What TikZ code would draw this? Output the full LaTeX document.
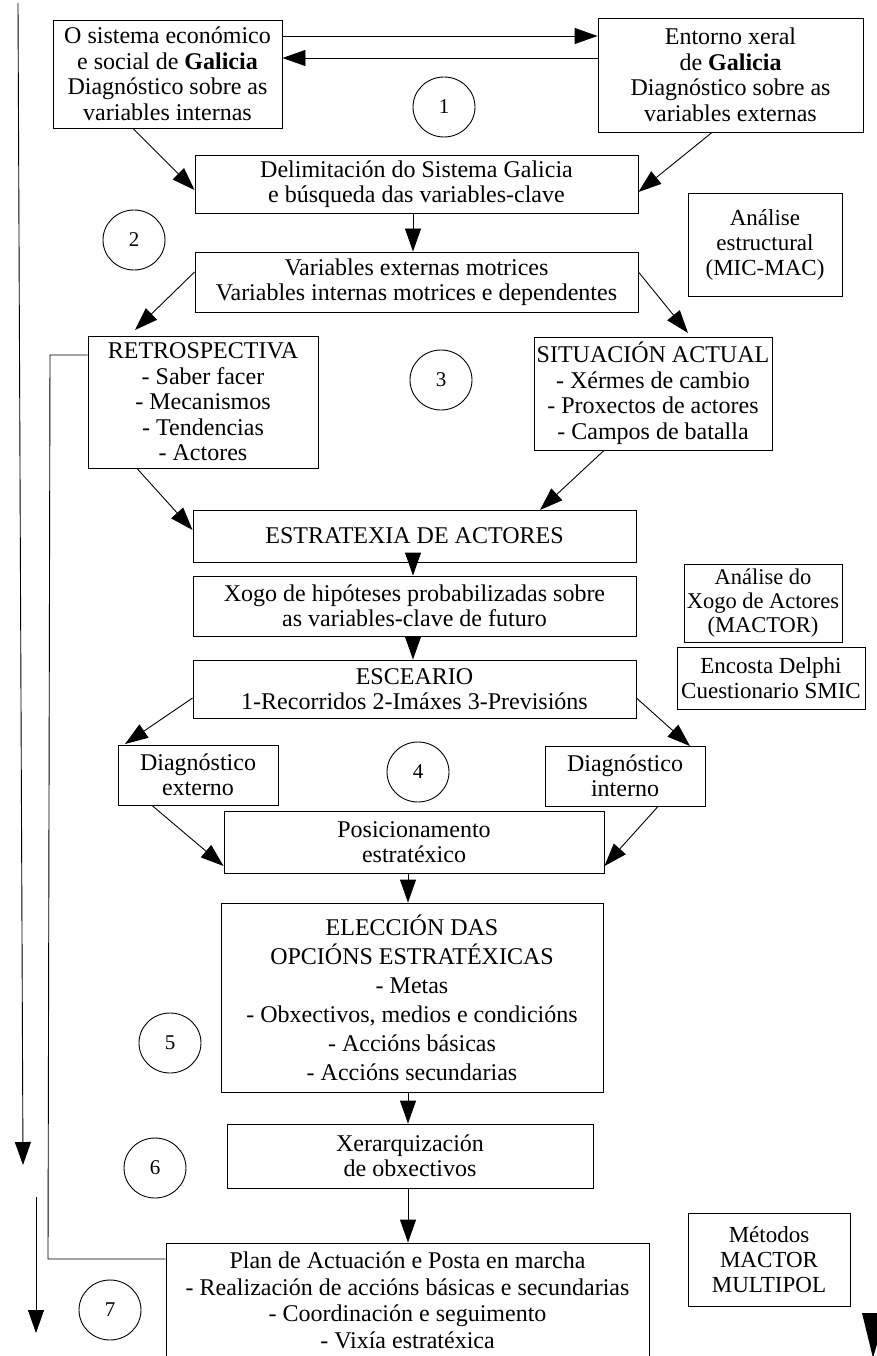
\documentclass[tikz,border=0pt]{standalone}
\usepackage{fontspec}
\setmainfont{Liberation Serif}
\usetikzlibrary{arrows.meta,calc,shapes.geometric}
\begin{document}
\begin{tikzpicture}[x=1pt,y=-1pt,
  box/.style={draw,line width=0.9pt,align=center,inner sep=0pt,font=\fontsize{24}{25.5}\selectfont},
  side/.style={box,font=\fontsize{23}{25}\selectfont},
  num/.style={draw,ellipse,line width=0.9pt,minimum width=62pt,minimum height=60pt,inner sep=0pt,font=\fontsize{21}{24}\selectfont},
  arr/.style={line width=0.9pt,-{Triangle[length=23pt,width=16pt]}},
  ln/.style={line width=0.9pt}]
\useasboundingbox (0,0) rectangle (877,1356);
\fill[white] (0,0) rectangle (877,1356);
% boxes
\node[box,minimum width=229,minimum height=108] (A) at (167.5,74) {O sistema económico\\e social de \textbf{Galicia}\\Diagnóstico sobre as\\variables internas};
\node[box,minimum width=265,minimum height=114] (B) at (730.5,75) {Entorno xeral\\de \textbf{Galicia}\\Diagnóstico sobre as\\variables externas};
\node[box,minimum width=443,minimum height=58] (D) at (416.5,184) {Delimitación do Sistema Galicia\\e búsqueda das variables-clave};
\node[side,minimum width=154,minimum height=103] (MM) at (765,244.5) {Análise\\estructural\\(MIC-MAC)};
\node[box,minimum width=443,minimum height=60] (V) at (416.5,282) {Variables externas motrices\\Variables internas motrices e dependentes};
\node[box,minimum width=230,minimum height=132] (R) at (203,402) {RETROSPECTIVA\\- Saber facer\\- Mecanismos\\- Tendencias\\- Actores};
\node[box,minimum width=238,minimum height=113] (S) at (653,393.5) {SITUACIÓN ACTUAL\\- Xérmes de cambio\\- Proxectos de actores\\- Campos de batalla};
\node[box,minimum width=443,minimum height=52] (E) at (414.5,536) {ESTRATEXIA DE ACTORES};
\node[side,minimum width=158,minimum height=78,font=\fontsize{22.5}{24}\selectfont] (MA) at (763,603) {Análise do\\Xogo de Actores\\(MACTOR)};
\node[box,minimum width=443,minimum height=60] (X) at (414.5,606) {Xogo de hipóteses probabilizadas sobre\\as variables-clave de futuro};
\node[side,minimum width=188,minimum height=62] (DS) at (771,678) {Encosta Delphi\\Cuestionario SMIC};
\node[box,minimum width=443,minimum height=58] (ES) at (414.5,689) {ESCEARIO\\1-Recorridos 2-Imáxes 3-Previsións};
\node[box,minimum width=160,minimum height=60] (DE) at (198,775) {Diagnóstico\\externo};
\node[box,minimum width=160,minimum height=60] (DI) at (625,776) {Diagnóstico\\interno};
\node[box,minimum width=380,minimum height=62] (P) at (414,842) {Posicionamento\\estratéxico};
\node[box,minimum width=382,minimum height=189,font=\fontsize{24}{29}\selectfont] (EL) at (412,997.5) {ELECCIÓN DAS\\OPCIÓNS ESTRATÉXICAS\\- Metas\\- Obxectivos, medios e condicións\\- Accións básicas\\- Accións secundarias};
\node[box,minimum width=366,minimum height=64] (XE) at (410,1156) {Xerarquización\\de obxectivos};
\node[box,minimum width=483,minimum height=160] (PL) at (407.5,1323) {};
\node[box,draw=none,anchor=north,font=\fontsize{24}{26.5}\selectfont] (PLt) at ([yshift=-9]PL.north) {Plan de Actuación e Posta en marcha\\- Realización de accións básicas e secundarias\\- Coordinación e seguimento\\- Vixía estratéxica};
\node[side,minimum width=162,minimum height=93] (MT) at (769,1259.5) {Métodos\\MACTOR\\MULTIPOL};
% numbered circles
\node[num] (c1) at (444,107) {1};
\node[num] (c2) at (134,240) {2};
\node[num] (c3) at (441,380) {3};
\node[num] (c4) at (418,772) {4};
\node[num] (c5) at (170,1043) {5};
\node[num] (c6) at (155,1168) {6};
\node[num] (c7) at (110,1310) {7};
% connectors
\draw[arr] (A.east |- 0,36) -- (B.west |- 0,36);
\draw[arr] (B.west |- 0,58) -- (A.east |- 0,58);
\draw[arr] (A.south -| 133,0) -- (D.west |- 0,190);
\draw[arr] (B.south -| 712,0) -- (D.east |- 0,192);
\draw[arr] (D.south -| 413,0) -- (V.north -| 413,0);
\draw[arr] (V.west |- 0,272) -- (135,330);
\draw[arr] (V.east |- 0,272) -- (688,333);
\draw[arr] (R.south -| 137,0) -- (E.west |- 0,530);
\draw[arr] (S.south -| 604,0) -- (540,510);
\draw[arr] (E.south -| 413,0) -- (X.north -| 413,0);
\draw[arr] (X.south -| 413,0) -- (ES.north -| 413,0);
\draw[arr] (ES.west |- 0,698) -- (125,744);
\draw[arr] (ES.east |- 0,698) -- (690,746);
\draw[arr] (DE.south -| 152,0) -- (P.west |- 0,866);
\draw[arr] (DI.south -| 658,0) -- (P.east |- 0,866);
\draw[arr] (P.south -| 408,0) -- (EL.north -| 408,0);
\draw[arr] (EL.south -| 408,0) -- (XE.north -| 408,0);
\draw[arr] (XE.south -| 408,0) -- (PL.north -| 408,0);
\draw[ln] (R.west |- 0,355) -- (50,355) -- (48,1259) -- (PL.west |- 0,1259);
\coordinate (L1a) at (18,3);
\coordinate (L1b) at (23,1165);
\draw[arr] (L1a) -- (L1b);
\coordinate (L2a) at (36,1197);
\coordinate (L2b) at (36,1333);
\draw[arr] (L2a) -- (L2b);
\fill (862,1313) -- (886,1313) -- (873,1358) -- cycle;
\end{tikzpicture}
\end{document}
